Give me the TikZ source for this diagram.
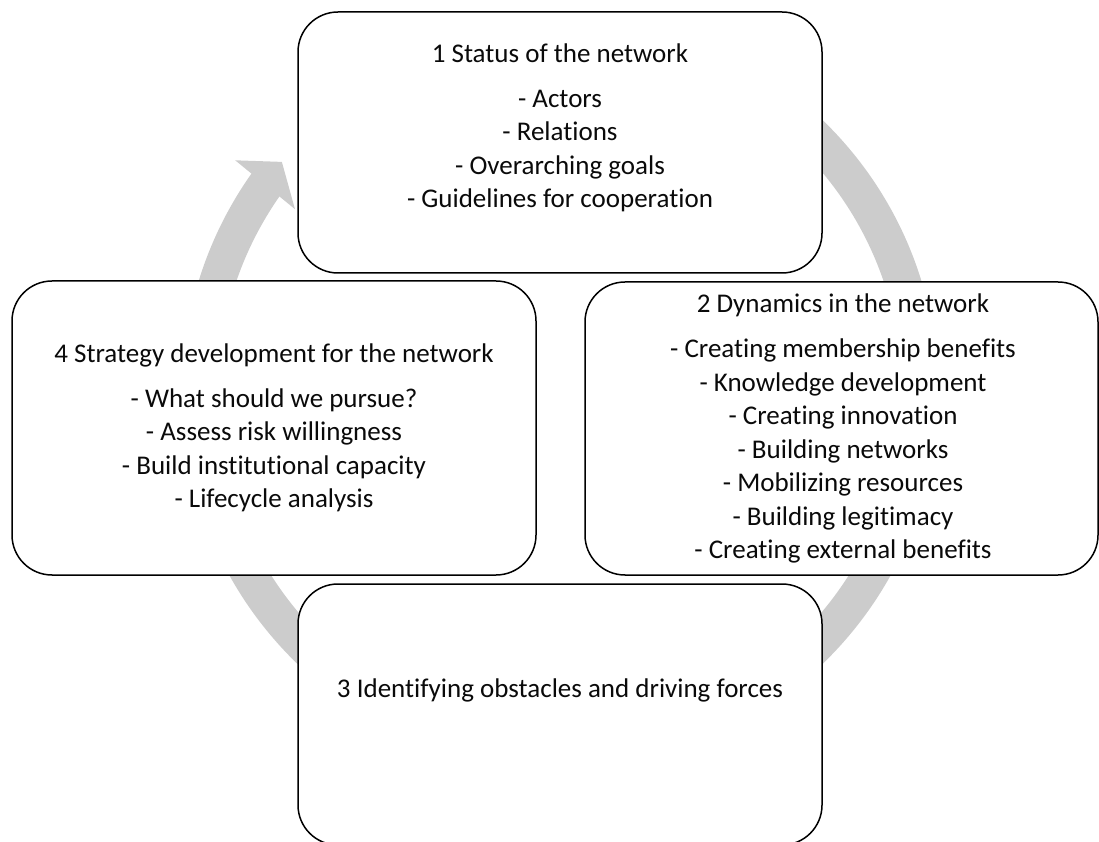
\documentclass[tikz,border=0pt]{standalone}
\usepackage{fontspec}
\setmainfont{Carlito}[Ligatures=NoCommon]
\definecolor{ringgray}{RGB}{204,204,204}
\definecolor{txtcol}{RGB}{10,10,10}
\tikzset{
  box/.style={draw=black, line width=1.5pt, rounded corners=40pt, fill=white, inner sep=0pt},
  txt/.style={align=center, text=txtcol, font=\fontsize{27}{33.5}\selectfont, inner sep=0pt},
  ring/.style={fill=ringgray, draw=none},
}
\begin{document}
\begin{tikzpicture}[x=1pt,y=1pt]
\useasboundingbox (0,0) rectangle (1099,841);
% circular arrow
\begin{scope}[shift={(560,449)}]
  \fill[ring] (90:378) arc[start angle=90,end angle=-216,radius=378]
     -- (-216:342) arc[start angle=-216,end angle=90,radius=342] -- cycle;
  \fill[ring] (144.5:399) -- (140.4:361) -- (145.4:322) -- cycle;
\end{scope}
% boxes
\node[box, minimum width=524, minimum height=261] (b1) at (560,698.5) {};
\node[box, minimum width=513, minimum height=293] (b2) at (841.5,412.5) {};
\node[box, minimum width=524, minimum height=294] (b4) at (274,413) {};
\node[box, minimum width=524, minimum height=261] (b3) at (560,126.5) {};
% texts
\node[txt] (t1) at (560,713) {1 Status of the network\\[11.5pt]- Actors\\- Relations\\- Overarching goals\\- Guidelines for cooperation};
\node[txt] (t2) at (843,412.5) {2 Dynamics in the network\\[11.5pt]- Creating membership benefits\\- Knowledge development\\- Creating innovation\\- Building networks\\- Mobilizing resources\\- Building legitimacy\\- Creating external benefits};
\node[txt] (t4) at (274,413) {4 Strategy development for the network\\[11.5pt]- What should we pursue?\\- Assess risk willingness\\- Build institutional capacity\\- Lifecycle analysis};
\node[txt] (t3) at (560,151) {3 Identifying obstacles and driving forces};
\end{tikzpicture}
\end{document}
